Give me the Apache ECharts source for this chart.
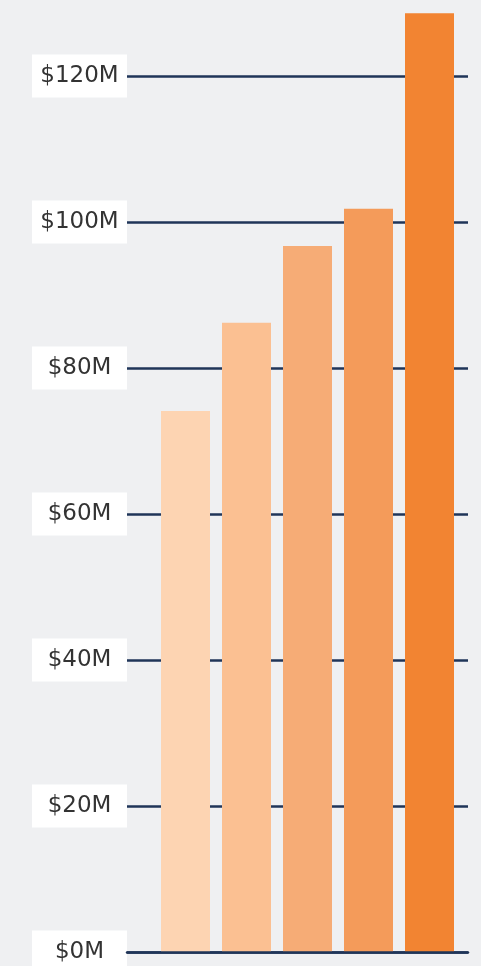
<!DOCTYPE html>
<html>
<head>
<meta charset="utf-8">
<script src="https://cdn.jsdelivr.net/npm/echarts@6/dist/echarts.min.js"></script>
<style>
html,body{margin:0;padding:0;background:#eff0f2;}
#main{width:481px;height:966px;}
</style>
</head>
<body>
<div id="main"></div>
<script>
var categories = ['Bar 1', 'Bar 2', 'Bar 3', 'Bar 4', 'Bar 5'];
var values = [74.1, 86.2, 96.7, 101.8, 128.6];
var barColors = ['#fdd4b2', '#fbc092', '#f6ac76', '#f49b5a', '#f28432'];
var yMin = 0, yMax = 130, yInterval = 20;

var chart = echarts.init(document.getElementById('main'), null, {renderer: 'canvas'});
var lineColor = '#1f3558';
chart.setOption({
  backgroundColor: '#eff0f2',
  animation: false,
  grid: [
    {left: 127, right: 13, top: 3, bottom: 14, outerBoundsMode: 'none', containLabel: false},
    {left: 155, right: 21, top: 3, bottom: 14, outerBoundsMode: 'none', containLabel: false}
  ],
  xAxis: [
    {type: 'category', gridIndex: 0, data: categories, show: true,
     axisLine: {show: true, lineStyle: {color: lineColor, width: 2.5}}, axisTick: {show: false}, axisLabel: {show: false}, z: 10},
    {type: 'category', gridIndex: 1, data: categories, show: false}
  ],
  yAxis: [
    {type: 'value', gridIndex: 0, min: yMin, max: yMax, interval: yInterval,
     axisLine: {show: false}, axisTick: {show: false},
     splitLine: {show: true, showMaxLine: false, lineStyle: {color: lineColor, width: 2.5}},
     axisLabel: {
       showMaxLabel: false,
       formatter: function (v) { return '$' + v + 'M'; },
       color: '#333333', fontFamily: 'DejaVu Sans', fontSize: 23, lineHeight: 23,
       backgroundColor: '#ffffff', width: 95, padding: [12, 0, 8, 0],
       align: 'center', margin: 47.5
     }},
    {type: 'value', gridIndex: 1, min: yMin, max: yMax, interval: yInterval, show: false, splitLine: {show: false}}
  ],
  series: [{
    type: 'bar', xAxisIndex: 1, yAxisIndex: 1,
    data: values.map(function (v, i) { return {value: v, itemStyle: {color: barColors[i]}}; }),
    barWidth: 49, z: 5
  }]
});
</script>
</body>
</html>
